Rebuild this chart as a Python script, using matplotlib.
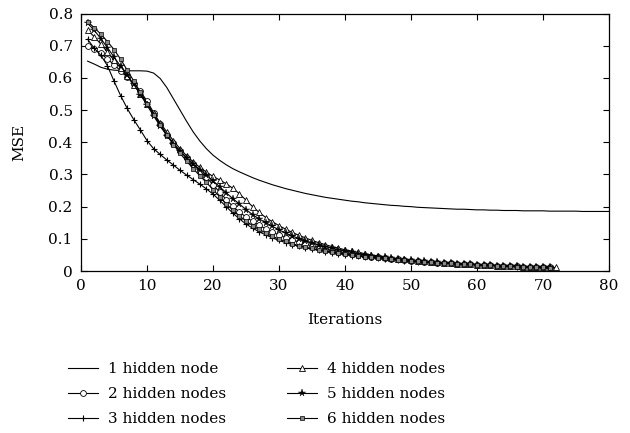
import matplotlib
matplotlib.use("Agg")
import matplotlib.pyplot as plt

plt.rcParams['font.family'] = ['DejaVu Serif']

# MSE per training iteration
mse_1 = [0.652, 0.643, 0.633, 0.627, 0.624, 0.623, 0.622, 0.622, 0.622, 0.621,
         0.615, 0.598, 0.570, 0.535, 0.500, 0.465, 0.432, 0.404, 0.380, 0.360,
         0.344, 0.330, 0.318, 0.308, 0.299, 0.290, 0.282, 0.275, 0.268, 0.262,
         0.256, 0.251, 0.246, 0.241, 0.237, 0.233, 0.229, 0.226, 0.223, 0.220,
         0.217, 0.215, 0.212, 0.210, 0.208, 0.206, 0.204, 0.203, 0.201, 0.200,
         0.198, 0.197, 0.196, 0.195, 0.194, 0.193, 0.192, 0.192, 0.191, 0.190,
         0.190, 0.189, 0.189, 0.188, 0.188, 0.188, 0.187, 0.187, 0.187, 0.187,
         0.186, 0.186, 0.186, 0.186, 0.186, 0.185, 0.185, 0.185, 0.185, 0.185]

mse_2 = [0.700, 0.690, 0.676, 0.659, 0.641, 0.622, 0.602, 0.582, 0.558, 0.528,
         0.492, 0.457, 0.424, 0.397, 0.373, 0.351, 0.331, 0.311, 0.291, 0.268,
         0.245, 0.222, 0.201, 0.183, 0.168, 0.154, 0.142, 0.131, 0.121, 0.112,
         0.104, 0.097, 0.090, 0.084, 0.078, 0.073, 0.068, 0.064, 0.060, 0.057,
         0.054, 0.051, 0.048, 0.045, 0.043, 0.040, 0.038, 0.036, 0.034, 0.032,
         0.031, 0.029, 0.028, 0.026, 0.025, 0.024, 0.023, 0.022, 0.021, 0.020,
         0.019, 0.018, 0.017, 0.016, 0.015, 0.015, 0.014, 0.013, 0.012, 0.012,
         0.011]

mse_3 = [0.720, 0.692, 0.670, 0.638, 0.590, 0.545, 0.505, 0.470, 0.438, 0.405,
         0.380, 0.362, 0.345, 0.329, 0.313, 0.298, 0.284, 0.270, 0.255, 0.239,
         0.220, 0.200, 0.180, 0.162, 0.146, 0.133, 0.122, 0.112, 0.103, 0.095,
         0.088, 0.082, 0.077, 0.072, 0.068, 0.064, 0.060, 0.057, 0.054, 0.051,
         0.048, 0.046, 0.044, 0.042, 0.040, 0.038, 0.036, 0.034, 0.032, 0.030,
         0.029, 0.028, 0.027, 0.026, 0.025, 0.024, 0.023, 0.022, 0.021, 0.020,
         0.019, 0.018, 0.017, 0.016, 0.015, 0.014, 0.013, 0.012, 0.011, 0.010,
         0.009]

mse_4 = [0.748, 0.728, 0.705, 0.680, 0.655, 0.630, 0.605, 0.578, 0.550, 0.520,
         0.490, 0.460, 0.432, 0.405, 0.380, 0.358, 0.339, 0.322, 0.307, 0.294,
         0.283, 0.271, 0.257, 0.240, 0.220, 0.200, 0.182, 0.166, 0.153, 0.141,
         0.130, 0.120, 0.111, 0.103, 0.095, 0.088, 0.082, 0.076, 0.071, 0.066,
         0.062, 0.058, 0.054, 0.050, 0.047, 0.044, 0.041, 0.038, 0.036, 0.034,
         0.032, 0.030, 0.028, 0.027, 0.025, 0.024, 0.023, 0.022, 0.021, 0.020,
         0.019, 0.018, 0.017, 0.016, 0.016, 0.015, 0.014, 0.014, 0.013, 0.012,
         0.012, 0.011]

mse_5 = [0.770, 0.748, 0.722, 0.694, 0.665, 0.636, 0.608, 0.580, 0.548, 0.515,
         0.482, 0.450, 0.421, 0.395, 0.372, 0.352, 0.333, 0.315, 0.298, 0.280,
         0.262, 0.243, 0.225, 0.208, 0.191, 0.175, 0.162, 0.150, 0.139, 0.128,
         0.118, 0.109, 0.101, 0.094, 0.087, 0.081, 0.076, 0.071, 0.066, 0.062,
         0.058, 0.054, 0.051, 0.048, 0.045, 0.042, 0.040, 0.037, 0.035, 0.033,
         0.031, 0.030, 0.028, 0.027, 0.025, 0.024, 0.023, 0.022, 0.021, 0.020,
         0.019, 0.018, 0.017, 0.016, 0.015, 0.015, 0.014, 0.013, 0.013, 0.012,
         0.011]

mse_6 = [0.775, 0.756, 0.736, 0.713, 0.688, 0.658, 0.624, 0.590, 0.555, 0.520,
         0.486, 0.453, 0.422, 0.393, 0.366, 0.341, 0.318, 0.296, 0.275, 0.253,
         0.231, 0.209, 0.189, 0.171, 0.155, 0.141, 0.129, 0.118, 0.108, 0.099,
         0.092, 0.085, 0.079, 0.074, 0.070, 0.066, 0.062, 0.059, 0.056, 0.053,
         0.050, 0.047, 0.045, 0.043, 0.041, 0.039, 0.037, 0.035, 0.033, 0.031,
         0.030, 0.028, 0.027, 0.026, 0.025, 0.024, 0.023, 0.022, 0.021, 0.020,
         0.019, 0.018, 0.017, 0.016, 0.015, 0.014, 0.013, 0.013, 0.012, 0.011,
         0.010]

labels = ['1 hidden node', '2 hidden nodes', '3 hidden nodes',
          '4 hidden nodes', '5 hidden nodes', '6 hidden nodes']

fs = 11
fig = plt.figure(figsize=(6.3, 4.33), dpi=100)
ax = fig.add_axes([0.1286, 0.3741, 0.8381, 0.5947])

lw = 0.8
def its(v):
    return list(range(1, len(v) + 1))

h = []
h += ax.plot(its(mse_1), mse_1, color='black', lw=lw, label=labels[0])
h += ax.plot(its(mse_2), mse_2, color='black', lw=lw, marker='o', ms=4.2,
             mfc='white', mec='black', mew=0.6, label=labels[1])
h += ax.plot(its(mse_3), mse_3, color='black', lw=lw, marker='+', ms=4.5,
             mew=0.8, label=labels[2])
h += ax.plot(its(mse_4), mse_4, color='black', lw=lw, marker='^', ms=4.5,
             mfc='white', mec='black', mew=0.6, label=labels[3])
h += ax.plot(its(mse_5), mse_5, color='black', lw=lw, marker='*', ms=5.5,
             mfc='black', mec='black', mew=0.3, label=labels[4])
h += ax.plot(its(mse_6), mse_6, color='black', lw=lw, marker='s', ms=2.2,
             mfc='#888888', mec='black', mew=0.5, label=labels[5])

ax.set_xlim(0, 80)
ax.set_ylim(0, 0.8)
ax.set_xticks(range(0, 81, 10))
ax.set_yticks([i / 10 for i in range(9)])
ax.set_yticklabels(['0'] + ['%.1f' % (i / 10) for i in range(1, 9)])
ax.tick_params(direction='in', top=True, right=True, length=4, width=0.8,
               labelsize=fs, pad=6)
for s in ax.spines.values():
    s.set_linewidth(0.9)

ax.set_xlabel('Iterations', fontsize=fs, labelpad=14)
ax.set_ylabel('MSE', fontsize=fs, labelpad=16)

leg_kw = dict(loc='upper left', ncol=1, frameon=False, fontsize=fs,
              handlelength=1.95, handletextpad=0.7, labelspacing=0.72,
              borderaxespad=0, borderpad=0)
fig.legend(h[:3], labels[:3], bbox_to_anchor=(68 / 630, 1 - 362 / 433), **leg_kw)
fig.legend(h[3:], labels[3:], bbox_to_anchor=(287 / 630, 1 - 362 / 433), **leg_kw)

fig.savefig('out.png', dpi=100)
